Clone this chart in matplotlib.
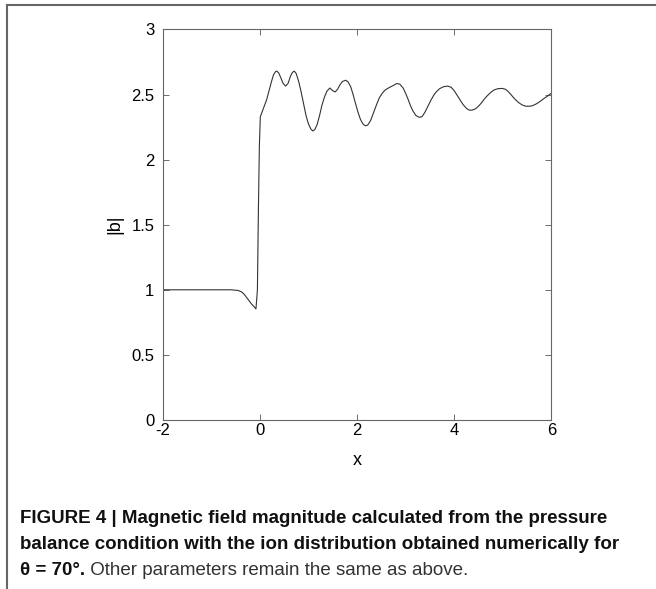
import matplotlib
matplotlib.use("Agg")
import matplotlib.pyplot as plt
from matplotlib.lines import Line2D

# |b| profile
x_vals = [-2.0, -1.0, -0.6, -0.45, -0.38, -0.32, -0.25, -0.18, -0.12, -0.08, -0.05, -0.03, -0.01,
          0.01, 0.05, 0.10, 0.14, 0.19, 0.24, 0.28, 0.32, 0.35, 0.39, 0.43, 0.48, 0.53, 0.58,
          0.63, 0.67, 0.71, 0.75, 0.80, 0.85, 0.90, 0.95, 1.00, 1.05, 1.09, 1.13, 1.18, 1.23,
          1.28, 1.33, 1.38, 1.44, 1.50, 1.55, 1.60, 1.65, 1.70, 1.77, 1.82, 1.87, 1.92, 1.97,
          2.02, 2.07, 2.12, 2.17, 2.22, 2.28, 2.34, 2.40, 2.46, 2.52, 2.58, 2.67, 2.75, 2.82,
          2.88, 2.95, 3.00, 3.05, 3.10, 3.15, 3.21, 3.28, 3.34, 3.40, 3.46, 3.52, 3.58, 3.63,
          3.70, 3.78, 3.87, 3.94, 4.00, 4.06, 4.12, 4.18, 4.25, 4.31, 4.37, 4.44, 4.50, 4.56,
          4.62, 4.68, 4.75, 4.82, 4.90, 4.99, 5.06, 5.12, 5.18, 5.25, 5.32, 5.40, 5.48, 5.55,
          5.62, 5.70, 5.78, 5.85, 5.93, 6.0]
b_vals = [1.0, 1.0, 1.0, 0.995, 0.985, 0.965, 0.93, 0.895, 0.87, 0.853, 1.0, 1.6, 2.1,
          2.33, 2.37, 2.42, 2.46, 2.53, 2.60, 2.65, 2.675, 2.68, 2.665, 2.63, 2.585, 2.565, 2.585,
          2.64, 2.67, 2.68, 2.66, 2.60, 2.52, 2.43, 2.34, 2.275, 2.235, 2.22, 2.23, 2.27, 2.34,
          2.42, 2.48, 2.525, 2.55, 2.53, 2.52, 2.54, 2.575, 2.60, 2.61, 2.595, 2.56, 2.50, 2.43,
          2.365, 2.31, 2.275, 2.26, 2.265, 2.30, 2.36, 2.42, 2.475, 2.51, 2.535, 2.555, 2.57, 2.585,
          2.58, 2.55, 2.51, 2.465, 2.415, 2.375, 2.34, 2.325, 2.33, 2.365, 2.41, 2.455, 2.495, 2.52,
          2.545, 2.56, 2.565, 2.555, 2.53, 2.495, 2.46, 2.425, 2.395, 2.38, 2.38, 2.39, 2.41, 2.435,
          2.465, 2.49, 2.515, 2.535, 2.545, 2.547, 2.54, 2.52, 2.495, 2.465, 2.44, 2.42, 2.41, 2.41,
          2.415, 2.43, 2.45, 2.47, 2.49, 2.51]

x_ticks = [-2, 0, 2, 4, 6]
y_ticks = [0, 0.5, 1, 1.5, 2, 2.5, 3]
y_tick_labels = ['0', '0.5', '1', '1.5', '2', '2.5', '3']

caption_lines = ["FIGURE 4 | Magnetic field magnitude calculated from the pressure",
                 "balance condition with the ion distribution obtained numerically for"]
caption_theta = "\u03b8 = 70\u00b0."
caption_rest = " Other parameters remain the same as above."

plt.rcParams['font.family'] = ['Liberation Sans', 'DejaVu Sans']

fig = plt.figure(figsize=(6.56, 5.89), dpi=100)
ax = fig.add_axes([0.248, 0.287, 0.5924, 0.663])
ax.plot(x_vals, b_vals, color='#333333', lw=0.8)
ax.set_xlim(-2, 6)
ax.set_ylim(0, 3)
ax.set_xticks(x_ticks)
ax.set_xticklabels([str(t) for t in x_ticks])
ax.set_yticks(y_ticks)
ax.set_yticklabels(y_tick_labels)
ax.tick_params(direction='in', top=True, right=True, length=4, width=0.6,
               labelsize=12, color='#555555')
ax.tick_params(axis='x', pad=2)
ax.tick_params(axis='y', pad=6)
for s in ax.spines.values():
    s.set_color('#666666')
    s.set_linewidth(0.8)
ax.set_xlabel('x', fontsize=13, labelpad=10)
ax.set_ylabel('|b|', fontsize=13, labelpad=6)

# frame lines around the figure panel
fig.add_artist(Line2D([7 / 656, 1.0], [1 - 5 / 589, 1 - 5 / 589], transform=fig.transFigure,
                      color='#666666', lw=1.5))
fig.add_artist(Line2D([7 / 656, 7 / 656], [1 - 5 / 589, 0.0], transform=fig.transFigure,
                      color='#666666', lw=1.5))

cap_size = 13.5
baselines = [523, 549, 575]
for line, yb in zip(caption_lines, baselines):
    fig.text(20 / 656, 1 - yb / 589, line, fontsize=cap_size, fontweight='bold',
             va='baseline', ha='left', color='#111111')
t1 = fig.text(20 / 656, 1 - baselines[2] / 589, caption_theta, fontsize=cap_size,
              fontweight='bold', va='baseline', ha='left', color='#111111')
fig.canvas.draw()
bb = t1.get_window_extent()
fig.text(bb.x1 / fig.bbox.width, 1 - baselines[2] / 589, caption_rest, fontsize=cap_size,
         va='baseline', ha='left', color='#333333')

fig.savefig('out.png', dpi=100)
